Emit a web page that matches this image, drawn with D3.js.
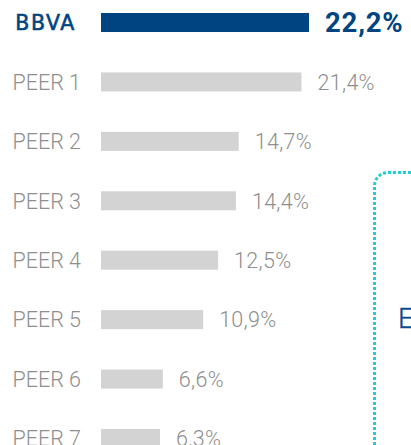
<!DOCTYPE html>
<html>
<head>
<meta charset="utf-8">
<script src="https://cdn.jsdelivr.net/npm/d3@7"></script>
<style>
  html, body { margin: 0; padding: 0; background: #fff; }
  svg { display: block; }
</style>
</head>
<body>
<div id="chart"></div>
<script>
var categories = ["BBVA", "PEER 1", "PEER 2", "PEER 3", "PEER 4", "PEER 5", "PEER 6", "PEER 7"];
var values = [22.2, 21.4, 14.7, 14.4, 12.5, 10.9, 6.6, 6.3];

function init () {
    var w = 411;
    var h = 445;

    var blue = "#004481";
    var grey = "#d3d3d3";
    var greyText = "#8e8e8e";

    var locale = d3.formatLocale({decimal: ",", thousands: ".", grouping: [3], currency: ["", "€"]});
    var fmt = locale.format(".1f");

    var xScale = d3.scaleLinear()
                .domain([0, d3.max(values)])
                .range([101, 309]);

    var yScale = d3.scaleBand()
                .domain(categories)
                .range([13, 448])
                .paddingInner(0.68)
                .paddingOuter(0);

    var svg = d3.select("#chart")
                .append("svg")
                .attr("width", w)
                .attr("height", h);

    var rows = categories.map(function(c, i) {
        return {name: c, value: values[i], main: i === 0};
    });

    // decorative dotted frame on the right
    svg.append("path")
        .attr("d", "M374.5,450 V186 A13.5,13.5 0 0 1 388,172.5 H420")
        .attr("fill", "none")
        .attr("stroke", "#1ccfd3")
        .attr("stroke-width", 3)
        .attr("stroke-dasharray", "3 2");

    svg.append("text")
        .attr("x", 398)
        .attr("y", 328)
        .attr("font-family", "Roboto")
        .attr("font-weight", 300)
        .attr("font-size", 28)
        .attr("fill", "#0a4c8f")
        .attr("stroke", "#0a4c8f")
        .attr("stroke-width", 0.4)
        .text("E");

    svg.selectAll("rect.bar")
        .data(rows)
        .enter()
        .append("rect")
        .attr("class", "bar")
        .attr("x", xScale(0))
        .attr("y", function(d) { return yScale(d.name); })
        .attr("width", function(d) { return xScale(d.value) - xScale(0); })
        .attr("height", yScale.bandwidth())
        .attr("fill", function(d) { return d.main ? blue : grey; });

    // category labels
    svg.selectAll("text.cat")
        .data(rows)
        .enter()
        .append("text")
        .attr("class", "cat")
        .attr("x", function(d) { return d.main ? 76 : 81; })
        .attr("y", function(d) { return yScale(d.name) + yScale.bandwidth() / 2; })
        .attr("dy", "0.36em")
        .attr("text-anchor", "end")
        .attr("font-family", function(d) { return d.main ? "DejaVu Sans" : "Roboto"; })
        .attr("font-weight", function(d) { return d.main ? 400 : 300; })
        .attr("font-size", function(d) { return d.main ? 20.5 : 21.5; })
        .attr("letter-spacing", function(d) { return d.main ? 1.6 : 0; })
        .attr("stroke", function(d) { return d.main ? blue : "none"; })
        .attr("stroke-width", 0.6)
        .attr("fill", function(d) { return d.main ? blue : greyText; })
        .text(function(d) { return d.name; });

    // value labels
    svg.selectAll("text.val")
        .data(rows)
        .enter()
        .append("text")
        .attr("class", "val")
        .attr("x", function(d) { return xScale(d.value) + 16; })
        .attr("y", function(d) { return yScale(d.name) + yScale.bandwidth() / 2; })
        .attr("dy", "0.36em")
        .attr("font-family", "Roboto")
        .attr("font-weight", function(d) { return d.main ? 700 : 300; })
        .attr("font-size", function(d) { return d.main ? 27.5 : 21.5; })
        .attr("letter-spacing", function(d) { return d.main ? 0.8 : 0.3; })
        .attr("fill", function(d) { return d.main ? blue : greyText; })
        .text(function(d) { return fmt(d.value) + "%"; });
}
window.onload = init;
</script>
</body>
</html>
